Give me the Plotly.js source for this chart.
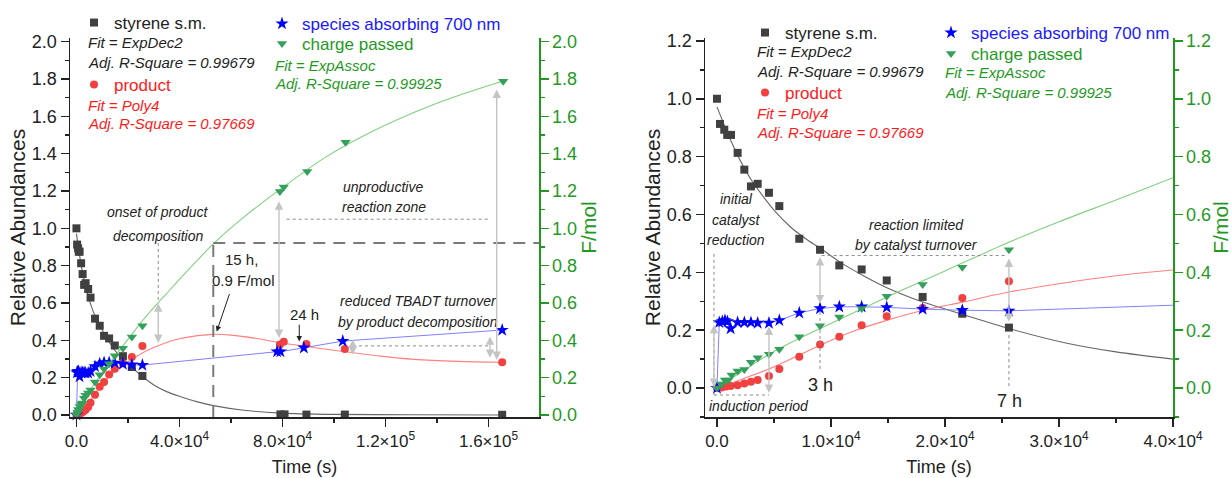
<!DOCTYPE html>
<html>
<head>
<meta charset="utf-8">
<script src="https://cdn.plot.ly/plotly-3.0.1.min.js"></script>
<style>html,body{margin:0;padding:0;background:#fff;}#chart{width:1232px;height:478px;}</style>
</head>
<body>
<div id="chart"></div>
<script>
// ---------- data ----------
// styrene starting material (relative abundance)
const T_STY = [0, 263, 640, 900, 1230, 1810, 2400, 2980, 3570, 4560, 5470, 7220, 9040, 10730, 12690, 14890, 18040, 21520, 25610, 79200, 80800, 89300, 104200, 165300];
const Y_STY = [1.0, 0.913, 0.893, 0.875, 0.875, 0.813, 0.755, 0.697, 0.706, 0.675, 0.629, 0.516, 0.478, 0.424, 0.41, 0.372, 0.315, 0.257, 0.209, 0.003, 0.003, 0.002, 0.002, 0.001];
// product
const T_PROD = [0, 410, 790, 1200, 1810, 2400, 2980, 3570, 4560, 5470, 7220, 9040, 10730, 12690, 14890, 18040, 21520, 25610, 79000, 80500, 89300, 104200, 165300];
const Y_PROD = [0, 0.002, 0.005, 0.007, 0.01, 0.016, 0.022, 0.028, 0.042, 0.066, 0.108, 0.151, 0.177, 0.217, 0.248, 0.277, 0.311, 0.369, 0.378, 0.392, 0.38, 0.353, 0.282];
// species absorbing at 700 nm
const T_SP = [0, 200, 470, 700, 920, 1200, 1810, 2400, 2980, 3570, 4560, 5470, 7220, 9040, 10730, 12690, 14890, 18040, 21520, 25610, 77900, 79200, 88300, 103400, 165300];
const Y_SP = [0, 0.227, 0.23, 0.234, 0.23, 0.206, 0.227, 0.227, 0.227, 0.225, 0.225, 0.234, 0.26, 0.275, 0.281, 0.281, 0.279, 0.273, 0.269, 0.267, 0.339, 0.339, 0.36, 0.396, 0.455];
// charge passed (F/mol)
const T_CH = [0, 410, 700, 1000, 1290, 1810, 2400, 2980, 3570, 4560, 5470, 7220, 9040, 10730, 12690, 14890, 18040, 21520, 25610, 79000, 80500, 89600, 104500, 165700];
const Y_CH = [0, 0.014, 0.028, 0.028, 0.045, 0.059, 0.064, 0.089, 0.105, 0.117, 0.134, 0.177, 0.215, 0.246, 0.275, 0.317, 0.358, 0.418, 0.478, 1.198, 1.221, 1.305, 1.462, 1.788];

// fitted curves
const FIT_T_STY = [0, 1000, 2000, 3000, 4000, 5000, 6500, 8000, 9000, 11000, 13000, 15000, 18000, 21500, 25600, 30700, 35000, 40000, 47000, 53200, 65000, 79200, 100000, 130000, 165300];
const FIT_STY   = [0.972, 0.875, 0.79, 0.72, 0.665, 0.615, 0.555, 0.51, 0.485, 0.43, 0.385, 0.345, 0.298, 0.255, 0.206, 0.155, 0.125, 0.1, 0.07, 0.05, 0.025, 0.01, 0.003, 0.001, 0.0];
const FIT_T_PROD = [0, 2000, 4920, 7000, 9040, 12000, 14890, 18000, 21520, 25610, 30700, 35000, 40000, 47000, 53200, 60000, 70000, 79200, 89300, 104200, 118000, 131000, 148000, 165300];
const FIT_PROD   = [0, 0.028, 0.072, 0.11, 0.148, 0.197, 0.234, 0.268, 0.297, 0.332, 0.365, 0.388, 0.408, 0.425, 0.432, 0.428, 0.41, 0.387, 0.367, 0.339, 0.315, 0.298, 0.287, 0.282];
const FIT_T_CH = [0, 4920, 9040, 12500, 16200, 20000, 25610, 30000, 35000, 40000, 47000, 53200, 65000, 79200, 96000, 115000, 136200, 150000, 165700];
const FIT_CH   = [0, 0.125, 0.206, 0.27, 0.338, 0.405, 0.504, 0.575, 0.65, 0.727, 0.83, 0.918, 1.06, 1.21, 1.375, 1.52, 1.65, 1.72, 1.79];

// tick labels
const XT_LEFT = [0, 40000, 80000, 120000, 160000];
const XL_LEFT = ['0.0', '4.0×10<sup>4</sup>', '8.0×10<sup>4</sup>', '1.2×10<sup>5</sup>', '1.6×10<sup>5</sup>'];
const XT_RIGHT = [0, 10000, 20000, 30000, 40000];
const XL_RIGHT = ['0.0', '1.0×10<sup>4</sup>', '2.0×10<sup>4</sup>', '3.0×10<sup>4</sup>', '4.0×10<sup>4</sup>'];

// ---------- style ----------
const FONT = 'Arial, "Liberation Sans", sans-serif';
const BLACK = '#222222', RED = '#ff1a1a', BLUE = '#1a1aff', GREEN = '#1f9a1f';
const C_SQ = '#404040', C_CIR = '#f04040', C_STAR = '#0000ff', C_TRI = '#34a05c';
const ML = 70, MR = 59, MT = 38, MB = 61, W = 1232, H = 478;
const PW = W - ML - MR, PH = H - MT - MB;
const xp = px => (px - ML) / PW;
const yp = py => (H - MB - py) / PH;

function traces(xa, ya, yb, L) {
  const fitLine = (x, y, color, yax) => ({x, y, xaxis: xa, yaxis: yax, mode: 'lines', showlegend: false,
    line: {color, width: 1.1, shape: 'spline', smoothing: 0.8}, hoverinfo: 'skip'});
  return [
    fitLine(FIT_T_STY, FIT_STY, '#666666', ya),
    fitLine(FIT_T_PROD, FIT_PROD, '#ff8080', ya),
    fitLine(FIT_T_CH, FIT_CH, '#80d080', yb),
    {x: T_SP, y: Y_SP, xaxis: xa, yaxis: ya, mode: 'lines', showlegend: false,
     line: {color: '#8080ff', width: 1}, hoverinfo: 'skip'},
    {x: T_STY, y: Y_STY, xaxis: xa, yaxis: ya, mode: 'markers', name: 'styrene s.m.', legend: L[0],
     marker: {symbol: 'square', size: 8, color: C_SQ}, cliponaxis: false},
    {x: T_PROD, y: Y_PROD, xaxis: xa, yaxis: ya, mode: 'markers', name: '<span style="color:' + RED + '">product</span>', legend: L[1],
     marker: {symbol: 'circle', size: 8, color: C_CIR}, cliponaxis: false},
    {x: T_CH, y: Y_CH, xaxis: xa, yaxis: yb, mode: 'markers', name: '<span style="color:' + GREEN + '">charge passed</span>', legend: L[3],
     marker: {symbol: 'triangle-down', size: 9, color: C_TRI}, cliponaxis: false},
    {x: T_SP, y: Y_SP, xaxis: xa, yaxis: ya, mode: 'markers', name: '<span style="color:' + BLUE + '">species absorbing 700 nm</span>', legend: L[2],
     marker: {symbol: 'star', size: 10, color: C_STAR}, cliponaxis: false}
  ];
}

const data = [].concat(
  traces('x', 'y', 'y2', ['legend', 'legend2', 'legend3', 'legend4']),
  traces('x2', 'y3', 'y4', ['legend5', 'legend6', 'legend7', 'legend8'])
);

function xAxis(domain, range, tv, tt, minorStep, anchor) {
  return {domain, range, anchor, tickmode: 'array', tickvals: tv, ticktext: tt, tickangle: 0,
    ticks: 'outside', ticklen: 8, tickwidth: 1.5, tickcolor: BLACK,
    showline: true, linecolor: BLACK, linewidth: 1.5, showgrid: false, zeroline: false,
    tickfont: {size: 17, color: BLACK, family: FONT},
    minor: {tickmode: 'linear', tick0: 0, dtick: minorStep, ticks: 'outside', ticklen: 4, tickwidth: 1.5, tickcolor: BLACK, showgrid: false},
    title: {text: 'Time (s)', font: {size: 18, color: BLACK, family: FONT}, standoff: 10}, automargin: false};
}
function yAxis(range, anchor, color, side, title, overlaying, standoff) {
  const a = {domain: [0, 1], range, anchor, side, tickmode: 'linear', tick0: 0, dtick: 0.2, tickformat: '.1f',
    ticks: 'outside', ticklen: 8, tickwidth: 1.5, tickcolor: color,
    showline: true, linecolor: color, linewidth: 1.5, showgrid: false, zeroline: false,
    tickfont: {size: 18, color, family: FONT},
    minor: {tickmode: 'linear', tick0: 0, dtick: 0.1, ticks: 'outside', ticklen: 4, tickwidth: 1.5, tickcolor: color, showgrid: false},
    title: {text: title, font: {size: 21, color, family: FONT}, standoff}, automargin: false};
  if (overlaying) a.overlaying = overlaying;
  return a;
}

function leg(symX, symY) {
  return {x: xp(symX - 20), y: yp(symY - 17), xanchor: 'left', yanchor: 'top', bgcolor: 'rgba(0,0,0,0)',
    borderwidth: 0, font: {size: 17, family: FONT, color: BLACK}, itemclick: false, itemdoubleclick: false};
}

// ---------- annotations ----------
const ann = [];
function ptext(txt, px, py, color, size, italic, anchor) {
  ann.push({text: italic ? '<i>' + txt + '</i>' : txt, xref: 'paper', yref: 'paper', x: xp(px), y: yp(py),
    xanchor: anchor || 'center', yanchor: 'middle', showarrow: false, font: {size, color, family: FONT}});
}
function dbl(xa, ya, x, y0, y1) {
  ann.push({text: '', xref: xa, yref: ya, axref: xa, ayref: ya, x, y: y1, ax: x, ay: y0, showarrow: true,
    arrowside: 'end+start', arrowhead: 2, arrowsize: 1.2, arrowwidth: 1.4, arrowcolor: '#c4c4c4', standoff: 0, startstandoff: 0});
}
function arr(xa, ya, x, y, ax, ay) {
  ann.push({text: '', xref: xa, yref: ya, axref: xa, ayref: ya, x, y, ax, ay, showarrow: true,
    arrowhead: 2, arrowsize: 1.1, arrowwidth: 1, arrowcolor: BLACK, standoff: 0});
}
// legend fit info, left panel
ptext('Fit = ExpDec2', 86, 43, BLACK, 15, true, 'left');
ptext('Adj. R-Square = 0.99679', 86, 62, BLACK, 15, true, 'left');
ptext('Fit = Poly4', 86, 105, RED, 15, true, 'left');
ptext('Adj. R-Square = 0.97669', 86, 123, RED, 15, true, 'left');
ptext('Fit = ExpAssoc', 273, 65, GREEN, 15, true, 'left');
ptext('Adj. R-Square = 0.99925', 273, 83, GREEN, 15, true, 'left');
// legend fit info, right panel
ptext('Fit = ExpDec2', 755, 52, BLACK, 15, true, 'left');
ptext('Adj. R-Square = 0.99679', 755, 71, BLACK, 15, true, 'left');
ptext('Fit = Poly4', 755, 113, RED, 15, true, 'left');
ptext('Adj. R-Square = 0.97669', 755, 132, RED, 15, true, 'left');
ptext('Fit = ExpAssoc', 943, 73, GREEN, 15, true, 'left');
ptext('Adj. R-Square = 0.99925', 943, 92, GREEN, 15, true, 'left');

// left panel notes
ptext('onset of product', 158, 212, BLACK, 14, true);
ptext('decomposition', 158, 236, BLACK, 14, true);
ptext('unproductive', 383, 187, BLACK, 14, true);
ptext('reaction zone', 384, 207, BLACK, 14, true);
ptext('15 h,', 241, 259, BLACK, 15, false);
ptext('0.9 F/mol', 243, 280, BLACK, 15, false);
ptext('24 h', 304, 314, BLACK, 15, false);
ptext('reduced TBADT turnover', 418, 301, BLACK, 14, true);
ptext('by product decomposition', 418, 322, BLACK, 14, true);
dbl('x', 'y', 31770, 0.606, 0.386);
dbl('x', 'y', 78640, 1.153, 0.413);
dbl('x', 'y', 163180, 1.752, 0.295);
dbl('x', 'y', 160580, 0.429, 0.306);
dbl('x', 'y', 107260, 0.413, 0.322);
arr('x', 'y', 54450, 0.447, 59610, 0.656);
arr('x', 'y', 86520, 0.393, 86520, 0.492);

// right panel notes
ptext('initial', 736, 199, BLACK, 14, true);
ptext('catalyst', 736, 220, BLACK, 14, true);
ptext('reduction', 736, 240, BLACK, 14, true);
ptext('induction period', 759, 406, BLACK, 14, true);
ptext('3 h', 820, 385, BLACK, 18, false);
ptext('reaction limited', 916, 225, BLACK, 14, true);
ptext('by catalyst turnover', 916, 245, BLACK, 14, true);
ptext('7 h', 1009, 401, BLACK, 18, false);
dbl('x2', 'y3', -263, 0.224, 0.004);
dbl('x2', 'y3', 4561, 0.218, -0.017);
dbl('x2', 'y3', 9040, 0.458, 0.293);
dbl('x2', 'y3', 25610, 0.453, 0.229);

// ---------- shapes ----------
const dot = {color: '#8a8a8a', width: 1, dash: 'dot'};
const dash = {color: '#7a7a7a', width: 2, dash: '12px,8px'};
function seg(xa, ya, x0, y0, x1, y1, line) {
  return {type: 'line', xref: xa, yref: ya, x0, y0, x1, y1, line, layer: 'above'};
}
const shapes = [
  seg('x', 'y', 31770, 0.922, 31770, 0.606, dot),
  seg('x', 'y', 81630, 1.049, 160580, 1.049, dot),
  seg('x', 'y', 107400, 0.370, 159800, 0.370, dot),
  seg('x', 'y', 53130, -0.011, 53130, 0.921, dash),
  seg('x', 'y', 53130, 0.921, 179600, 0.921, dash),
  seg('x2', 'y3', -263, 0.464, -263, -0.024, dot),
  seg('x2', 'y3', -263, -0.024, 4561, -0.024, dot),
  seg('x2', 'y3', 9040, 0.263, 9040, 0.062, dot),
  seg('x2', 'y3', 9180, 0.458, 25410, 0.458, dot),
  seg('x2', 'y3', 25610, 0.183, 25610, 0.004, dot)
];

const layout = {
  width: W, height: H, margin: {l: ML, r: MR, t: MT, b: MB, pad: 0, autoexpand: false},
  paper_bgcolor: '#ffffff', plot_bgcolor: 'rgba(0,0,0,0)',
  font: {family: FONT, color: BLACK},
  xaxis: xAxis([0, xp(539)], [-2500, 179600], XT_LEFT, XL_LEFT, 20000, 'y'),
  yaxis: yAxis([-0.011, 2.02], 'x', BLACK, 'left', 'Relative Abundances', null, 0),
  yaxis2: yAxis([-0.011, 2.02], 'x', GREEN, 'right', 'F/mol', 'y', 3),
  xaxis2: xAxis([xp(705), 1], [-1050, 40000], XT_RIGHT, XL_RIGHT, 5000, 'y3'),
  yaxis3: yAxis([-0.1, 1.21], 'x2', BLACK, 'left', 'Relative Abundances', null, 0),
  yaxis4: yAxis([-0.1, 1.21], 'x2', GREEN, 'right', 'F/mol', 'y3', 3),
  legend: leg(94, 22), legend2: leg(94, 84), legend3: leg(282, 23), legend4: leg(282, 43),
  legend5: leg(765, 32), legend6: leg(765, 92), legend7: leg(951, 32), legend8: leg(951, 53),
  annotations: ann, shapes: shapes, hovermode: false
};

Plotly.newPlot('chart', data, layout, {staticPlot: true, displayModeBar: false});
</script>
</body>
</html>
